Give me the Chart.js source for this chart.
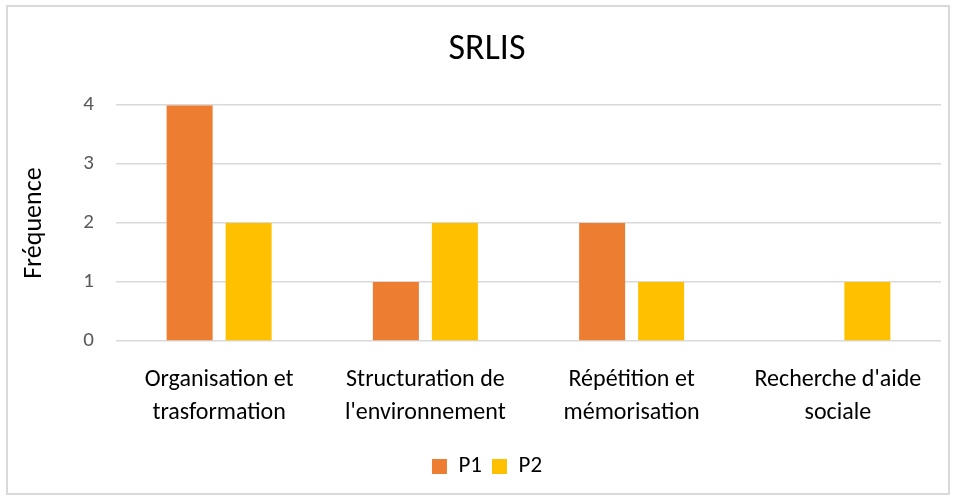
<!DOCTYPE html>
<html>
<head>
<meta charset="utf-8">
<script src="https://cdn.jsdelivr.net/npm/chart.js@4"></script>
<style>
  body { margin: 0; background: #fff; }
  #wrap { position: absolute; left: 6px; top: 5px; width: 940px; height: 486px; border: 2px solid #d9d9d9; }
</style>
</head>
<body>
<div id="wrap"><canvas id="myChart" width="940" height="486"></canvas></div>
<script>
var categories = [
  ['Organisation et', 'trasformation'],
  ['Structuration de', "l'environnement"],
  ['Répétition et', 'mémorisation'],
  ["Recherche d'aide", 'sociale']
];
var p1Values = [4, 1, 2, 0];
var p2Values = [2, 2, 1, 1];
var yTicks = [0, 1, 2, 3, 4];

var fontFamily = 'Carlito, Calibri, Lato, sans-serif';

var ctx = document.getElementById('myChart').getContext('2d');
var myChart = new Chart(ctx, {
  type: 'bar',
  data: {
    labels: categories,
    datasets: [{
      label: 'P1',
      data: p1Values,
      backgroundColor: '#ED7D31'
    }, {
      label: 'P2',
      data: p2Values,
      backgroundColor: '#FFC000'
    }]
  },
  options: {
    responsive: false,
    animation: false,
    categoryPercentage: 0.572,
    barPercentage: 0.78,
    layout: { padding: { left: 25, right: 7, top: 0, bottom: 5 } },
    plugins: {
      title: {
        display: true,
        text: 'SRLIS',
        color: '#000',
        font: { family: fontFamily, size: 36, weight: 'normal' },
        padding: { top: 21, bottom: 34 }
      },
      legend: {
        position: 'bottom',
        labels: {
          boxWidth: 15,
          boxHeight: 15,
          color: '#000',
          padding: 10,
          font: { family: fontFamily, size: 23 }
        }
      },
      tooltip: { enabled: false }
    },
    scales: {
      x: {
        grid: { display: false },
        border: { display: false },
        ticks: {
          color: '#000',
          padding: 14,
          maxRotation: 0,
          font: { family: fontFamily, size: 24, lineHeight: 1.38 }
        },
        afterFit: function (axis) { axis.height = 104; }
      },
      y: {
        min: 0,
        max: 4,
        afterBuildTicks: function (axis) {
          axis.ticks = yTicks.map(function (v) { return { value: v }; });
        },
        grid: { color: '#d9d9d9', lineWidth: 1.5, drawTicks: false },
        border: { display: false },
        ticks: {
          color: '#595959',
          padding: 22,
          font: { family: fontFamily, size: 21 }
        },
        title: {
          display: true,
          text: 'Fréquence',
          color: '#000',
          padding: { top: -14, bottom: 0 },
          font: { family: fontFamily, size: 26 }
        },
        afterFit: function (axis) { axis.width = 83; }
      }
    }
  }
});
</script>
</body>
</html>
